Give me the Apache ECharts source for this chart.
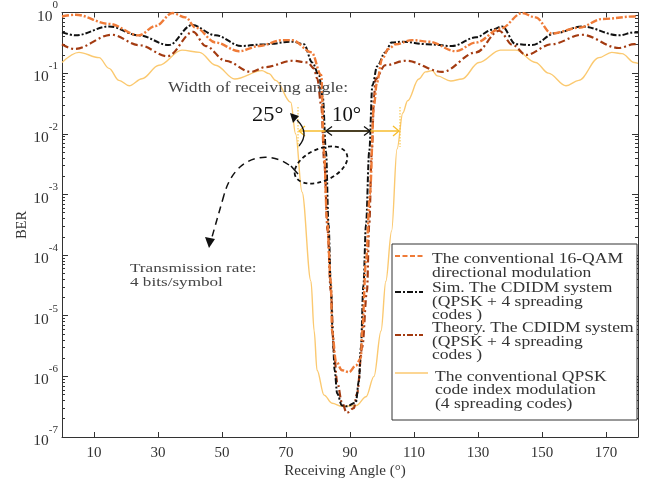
<!DOCTYPE html>
<html>
<head>
<meta charset="utf-8">
<script src="https://cdn.jsdelivr.net/npm/echarts@6/dist/echarts.min.js"></script>
<style>
  html, body { margin: 0; padding: 0; background: #fff; }
  #chart { width: 650px; height: 486px; }
</style>
</head>
<body>
<div id="chart"></div>
<script>
// x ticks (receiving angle, degrees)
const angleTicks = [10, 30, 50, 70, 90, 110, 130, 150, 170]
const berDecades = [1e-7, 1e-6, 1e-5, 1e-4, 1e-3, 1e-2, 1e-1, 1]

// conventional 16-QAM directional modulation
const angleQam = [0, 4.3, 14.7, 24, 29.3, 34.5, 38.6, 41.8, 48, 55.3, 61.6, 68.8, 72, 78, 81, 81.9, 82.8, 84, 84.4, 85.6, 87.5, 89.7, 91.8, 93.4, 93.8, 95, 96.2, 97.5, 98.4, 100, 102, 104.3, 109.4, 114.7, 123, 129.4, 137, 143.8, 148, 153, 161.5, 168.8, 178.8, 180]
const berQam = [0.86, 0.92, 0.65, 0.42, 0.6, 0.98, 0.83, 0.56, 0.32, 0.23, 0.28, 0.35, 0.35, 0.22, 0.093, 5e-3, 4e-4, 3.7e-5, 5.6e-6, 1.8e-6, 1.26e-6, 1.17e-6, 1.5e-6, 2e-6, 5.6e-6, 8e-5, 1e-3, 0.03, 0.07, 0.17, 0.25, 0.3, 0.35, 0.33, 0.23, 0.32, 0.54, 0.98, 0.83, 0.45, 0.56, 0.78, 0.86, 0.87]

// Sim. CDIDM system
const angleSim = [0, 4.3, 14.7, 24, 33.4, 40.6, 48, 56, 63.6, 72, 75.6, 78.2, 80.3, 81.5, 82.5, 83.3, 84, 84.6, 85.2, 86, 87.5, 89, 91.8, 92.8, 93.4, 94.2, 95, 96, 97, 98.5, 101, 103, 106.3, 114, 121.9, 129.4, 134.4, 137.5, 141.8, 146.9, 154.4, 162.5, 174, 178.8, 180]
const berSim = [0.47, 0.42, 0.59, 0.42, 0.29, 0.62, 0.42, 0.28, 0.3, 0.33, 0.3, 0.15, 0.093, 0.04, 5e-3, 3.2e-4, 3.2e-5, 5e-6, 1.26e-6, 5.2e-7, 3.3e-7, 3.2e-7, 3.7e-7, 8.5e-7, 3e-6, 3.2e-5, 3.2e-4, 5e-3, 0.063, 0.13, 0.22, 0.32, 0.33, 0.3, 0.28, 0.39, 0.52, 0.59, 0.3, 0.29, 0.46, 0.59, 0.42, 0.47, 0.47]

// Theory. CDIDM system
const angleThe = [0, 3.8, 15.6, 24, 33, 41, 44.9, 51.1, 59, 63.6, 72, 76.8, 78.7, 79.8, 81, 82, 83, 84, 85, 86, 87.5, 89, 91.2, 92.2, 93.8, 95.3, 96, 96.8, 97.5, 98, 101, 107.5, 118.8, 129.4, 136.6, 140.9, 145, 153, 162.5, 174, 178.8, 180]
const berThe = [0.3, 0.25, 0.43, 0.29, 0.19, 0.48, 0.28, 0.16, 0.105, 0.126, 0.16, 0.15, 0.12, 0.08, 0.03, 3.2e-3, 2.5e-4, 2.5e-5, 2.5e-6, 8e-7, 3.7e-7, 2.5e-7, 3e-7, 5.2e-7, 3e-6, 2.5e-5, 3.2e-4, 5e-3, 0.04, 0.08, 0.135, 0.16, 0.105, 0.22, 0.5, 0.29, 0.2, 0.3, 0.43, 0.26, 0.3, 0.3]

// conventional QPSK code index modulation
const angleCim = [0, 5.3, 11.6, 14.7, 17.8, 21, 25, 30.3, 37.5, 43, 48, 54, 62.5, 64.7, 66.8, 71.5, 73, 75, 77.8, 78.8, 79.7, 81.9, 84.4, 87.5, 92, 95, 97.5, 99.7, 101.2, 103, 104.7, 106.5, 108, 111.5, 113.6, 115.7, 117.3, 121.5, 125, 130.3, 137, 141.8, 148, 152, 157.5, 161.5, 167.8, 171.8, 175, 178.8, 180]
const berCim = [0.15, 0.22, 0.18, 0.12, 0.076, 0.062, 0.081, 0.135, 0.24, 0.22, 0.135, 0.08, 0.11, 0.098, 0.076, 0.033, 0.01, 1.1e-3, 3.7e-5, 5.6e-6, 1.26e-6, 4.9e-7, 3.6e-7, 3.2e-7, 3.3e-7, 4.6e-7, 1e-6, 5.6e-6, 3.7e-5, 2.5e-4, 5.6e-3, 0.022, 0.035, 0.08, 0.105, 0.11, 0.09, 0.074, 0.08, 0.15, 0.24, 0.24, 0.15, 0.1, 0.062, 0.076, 0.18, 0.22, 0.21, 0.15, 0.145]

const SERIF = 'Liberation Serif, DejaVu Serif, serif'
const C_QAM = '#ef7b38'
const C_SIM = '#111111'
const C_THE = '#a33a10'
const C_CIM = '#fbc970'
const C_ANN = '#f7bd2e'

// minor log ticks 2..9 x 10^k
const minorTicks = []
berDecades.slice(0, -1).forEach((d) => {
  for (let m = 2; m <= 9; m++) minorTicks.push(+(m * d).toPrecision(3))
})

const zip = (xs, ys) => xs.map((x, i) => [x, ys[i]])

const chart = echarts.init(document.getElementById('chart'), null, { renderer: 'canvas' })

const axisLine = { show: true, lineStyle: { color: '#333', width: 1 } }

function yAxisBase(pos, showLabel) {
  return {
    type: 'log',
    logBase: 10,
    min: 1e-7,
    max: 1,
    position: pos,
    interval: 1,
    axisLine: axisLine,
    splitLine: { show: false },
    axisTick: { show: true, inside: true, length: 6, lineStyle: { color: '#333' } },
    axisLabel: showLabel
      ? {
          show: true,
          margin: 4,
          formatter: (v) => '{b|10}{e|' + Math.round(Math.log10(v)) + '}',
          rich: {
            b: { fontFamily: SERIF, fontSize: 15.5, color: '#333', padding: [8, 0, 0, 0] },
            e: { fontFamily: SERIF, fontSize: 11, color: '#333', padding: [0, 0, 14, 0] }
          }
        }
      : { show: false }
  }
}

function yAxisMinor(pos) {
  return {
    type: 'log',
    logBase: 10,
    min: 1e-7,
    max: 1,
    position: pos,
    axisLine: { show: false },
    splitLine: { show: false },
    axisLabel: { show: false },
    axisTick: { show: true, inside: true, length: 3, customValues: minorTicks, lineStyle: { color: '#333' } }
  }
}

function xAxisBase(pos, showLabel) {
  return {
    type: 'value',
    min: 0,
    max: 180,
    position: pos,
    axisLine: axisLine,
    splitLine: { show: false },
    axisTick: { show: true, inside: true, length: 5, customValues: angleTicks, lineStyle: { color: '#333' } },
    axisLabel: showLabel
      ? { show: true, customValues: angleTicks, margin: 9, fontFamily: SERIF, fontSize: 15, color: '#333' }
      : { show: false }
  }
}

function lineSeries(name, xs, ys, color, width, dash, z) {
  return {
    name: name,
    type: 'line',
    data: zip(xs, ys),
    showSymbol: false,
    smooth: 0.35,
    smoothMonotone: 'x',
    z: z,
    lineStyle: { color: color, width: width, type: dash },
    emphasis: { disabled: true }
  }
}

const txt = (x, y, s, size, extra, sx) => ({
  type: 'text',
  x: x,
  y: y,
  z: 100,
  scaleX: sx || 1,
  style: Object.assign({ text: s, fontFamily: SERIF, fontSize: size, fill: '#333', textVerticalAlign: 'middle' }, extra || {})
})
const seg = (x1, y1, x2, y2, color, width, dash) => ({
  type: 'line',
  z: 100,
  shape: { x1: x1, y1: y1, x2: x2, y2: y2 },
  style: { stroke: color, lineWidth: width, lineDash: dash || null }
})
const chevron = (pts, color) => ({
  type: 'polyline',
  z: 100,
  shape: { points: pts },
  style: { stroke: color, lineWidth: 1.3, fill: null }
})
const tri = (pts, color) => ({
  type: 'polygon',
  z: 100,
  shape: { points: pts },
  style: { fill: color }
})
const curve = (shape, color, width, dash) => ({
  type: 'bezierCurve',
  z: 100,
  shape: shape,
  style: { stroke: color, lineWidth: width, lineDash: dash || null, fill: null }
})

// legend box
const LX = 392, LY = 244, LS = 1.17
const legendGraphics = [
  { type: 'rect', z: 90, shape: { x: LX, y: LY, width: 245, height: 176 }, style: { fill: '#fff', stroke: '#333', lineWidth: 1 } },
  seg(395, 256, 424, 256, C_QAM, 2.2, [5, 2.5]),
  txt(432, 259, 'The conventional 16-QAM', 15, null, LS),
  txt(432, 273, 'directional modulation', 15, null, LS),
  seg(395, 292, 423, 292, C_SIM, 2.2, [6, 2, 2, 2]),
  txt(432, 288, 'Sim. The CDIDM system', 15, null, LS),
  txt(432, 302, '(QPSK + 4 spreading', 15, null, LS),
  txt(432, 315, 'codes )', 15, null, LS),
  seg(395, 335, 423, 335, C_THE, 2.2, [6, 2, 2, 2]),
  txt(432, 328, 'Theory. The CDIDM system', 15, null, LS),
  txt(432, 342, '(QPSK + 4 spreading', 15, null, LS),
  txt(432, 355, 'codes )', 15, null, LS),
  seg(395, 373, 428, 373, C_CIM, 1.5),
  txt(435, 377, 'The conventional QPSK', 15, null, LS),
  txt(435, 390, 'code index modulation', 15, null, LS),
  txt(435, 404, '(4 spreading codes)', 15, null, LS)
]

const annotations = [
  txt(168, 88, 'Width of receiving angle:', 14, { fill: '#444' }, 1.26),
  txt(252, 116, '25°', 20, { fill: '#111' }, 1.12),
  txt(332, 116, '10°', 20, { fill: '#111' }, 1.04),
  // yellow width markers
  seg(298, 107, 298, 148, C_ANN, 1, [1.5, 1.5]),
  seg(400, 107, 400, 147, C_ANN, 1, [1.5, 1.5]),
  seg(299, 131, 399, 131, C_ANN, 1.4),
  chevron([[305, 126], [299, 131], [305, 136]], C_ANN),
  chevron([[393, 126], [399, 131], [393, 136]], C_ANN),
  // black 10 degree arrow
  seg(326, 131, 370, 131, '#111', 1.3),
  chevron([[332, 126.5], [326, 131], [332, 135.5]], '#111'),
  chevron([[364, 126.5], [370, 131], [364, 135.5]], '#111'),
  // small curved arrow to 25 degrees
  curve({ x1: 299, y1: 146, cpx1: 310, cpy1: 133, x2: 297, y2: 120 }, '#111', 1.3),
  tri([[290, 113], [299, 116], [293, 123]], '#111'),
  // dashed ellipse
  {
    type: 'ellipse',
    z: 100,
    x: 321,
    y: 165,
    rotation: 0.42,
    shape: { cx: 0, cy: 0, rx: 28, ry: 16 },
    style: { stroke: '#111', lineWidth: 1.8, lineDash: [4, 3], fill: null }
  },
  // dashed arrow to transmission rate note
  seg(298, 174, 291, 166, '#111', 1.5),
  curve({ x1: 289, y1: 165, cpx1: 268, cpy1: 150, cpx2: 235, cpy2: 155, x2: 224, y2: 195 }, '#111', 1.5, [7, 5]),
  seg(224, 195, 212, 237, '#111', 1.5, [7, 5]),
  tri([[205, 237], [215, 239], [209, 248]], '#111'),
  txt(130, 268, 'Transmission rate:', 13.5, { fill: '#444' }, 1.27),
  txt(130, 282, '4 bits/symbol', 13.5, { fill: '#444' }, 1.27),
  // axis titles
  txt(345, 471, 'Receiving Angle (°)', 14.5, { textAlign: 'center' }, 1.04),
  {
    type: 'text',
    x: 22,
    y: 225,
    rotation: Math.PI / 2,
    z: 100,
    style: { text: 'BER', fontFamily: SERIF, fontSize: 14.5, fill: '#333', textAlign: 'center', textVerticalAlign: 'middle' }
  }
]

chart.setOption({
  animation: false,
  backgroundColor: '#fff',
  grid: { left: 62, right: 12, top: 10, bottom: 49, containLabel: false },
  xAxis: [xAxisBase('bottom', true), xAxisBase('top', false)],
  yAxis: [yAxisBase('left', true), yAxisMinor('left'), yAxisBase('right', false), yAxisMinor('right')],
  series: [
    lineSeries('The conventional QPSK code index modulation', angleCim, berCim, C_CIM, 1.4, 'solid', 2),
    lineSeries('Theory. The CDIDM system', angleThe, berThe, C_THE, 2.2, [7, 3, 2, 3], 3),
    lineSeries('Sim. The CDIDM system', angleSim, berSim, C_SIM, 2, [6, 2, 2, 2], 4),
    lineSeries('The conventional 16-QAM directional modulation', angleQam, berQam, C_QAM, 2.4, [7, 2, 2, 2], 5)
  ],
  graphic: legendGraphics.concat(annotations)
})
</script>
</body>
</html>
